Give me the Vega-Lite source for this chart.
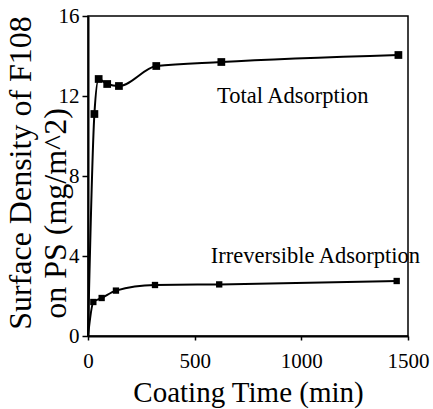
{
  "$schema": "https://vega.github.io/schema/vega-lite/v6.json",
  "autosize": "none",
  "width": 320,
  "height": 320,
  "padding": {"left": 88, "top": 16, "right": 25, "bottom": 73},
  "background": "white",
  "config": {
    "view": {"stroke": "black", "strokeWidth": 1.5},
    "font": "Liberation Serif"
  },
  "title": {
    "text": "Surface Density of F108",
    "orient": "left",
    "anchor": "middle",
    "font": "Liberation Serif",
    "fontSize": 32,
    "fontWeight": "normal",
    "color": "black",
    "offset": 1,
    "dx": 3
  },
  "datasets": {
    "pts": [
      {"series": "Total", "t": 0, "v": 0},
      {"series": "Total", "t": 30, "v": 11.1},
      {"series": "Total", "t": 50, "v": 12.85},
      {"series": "Total", "t": 90, "v": 12.6},
      {"series": "Total", "t": 145, "v": 12.5},
      {"series": "Total", "t": 320, "v": 13.5},
      {"series": "Total", "t": 625, "v": 13.7},
      {"series": "Total", "t": 1455, "v": 14.05},
      {"series": "Irreversible", "t": 0, "v": 0},
      {"series": "Irreversible", "t": 25, "v": 1.7},
      {"series": "Irreversible", "t": 64, "v": 1.9},
      {"series": "Irreversible", "t": 131, "v": 2.27},
      {"series": "Irreversible", "t": 314, "v": 2.55},
      {"series": "Irreversible", "t": 615, "v": 2.58},
      {"series": "Irreversible", "t": 1447, "v": 2.75}
    ],
    "labels": [
      {"t": 960, "v": 12.0, "label": "Total Adsorption"},
      {"t": 1066, "v": 4.0, "label": "Irreversible Adsorption"}
    ]
  },
  "encoding": {
    "x": {
      "field": "t", "type": "quantitative",
      "scale": {"domain": [0, 1500], "nice": false},
      "axis": {
        "title": "Coating Time (min)",
        "values": [0, 500, 1000, 1500],
        "format": "d",
        "grid": false,
        "domainColor": "black", "domainWidth": 2,
        "tickColor": "black", "tickSize": 4, "tickWidth": 1.5,
        "labelColor": "black", "labelFont": "Liberation Serif", "labelFontSize": 21,
        "labelPadding": 10, "labelFlush": false,
        "titleColor": "black", "titleFont": "Liberation Serif", "titleFontSize": 29,
        "titleFontWeight": "normal", "titlePadding": 7
      }
    },
    "y": {
      "field": "v", "type": "quantitative",
      "scale": {"domain": [0, 16], "nice": false},
      "axis": {
        "title": "on PS (mg/m^2)",
        "values": [0, 4, 8, 12, 16],
        "grid": false,
        "domainColor": "black", "domainWidth": 2,
        "tickColor": "black", "tickSize": 6, "tickWidth": 1.5,
        "labelColor": "black", "labelFont": "Liberation Serif", "labelFontSize": 21,
        "labelPadding": 3,
        "titleColor": "black", "titleFont": "Liberation Serif", "titleFontSize": 32,
        "titleFontWeight": "normal",
        "titleX": -33, "titleY": 197, "titleAlign": "center", "titleBaseline": "middle", "titleAngle": -90
      }
    }
  },
  "layer": [
    {
      "data": {"name": "pts"},
      "mark": {"type": "line", "interpolate": "monotone", "color": "black", "strokeWidth": 2},
      "encoding": {"detail": {"field": "series"}}
    },
    {
      "data": {"name": "pts"},
      "transform": [{"filter": "datum.t > 0"}],
      "mark": {"type": "point", "shape": "square", "filled": true, "color": "black", "opacity": 1},
      "encoding": {
        "size": {"field": "series", "type": "nominal", "scale": {"domain": ["Total", "Irreversible"], "range": [60, 40]}, "legend": null}
      }
    },
    {
      "data": {"name": "labels"},
      "mark": {"type": "text", "font": "Liberation Serif", "fontSize": 22.5, "color": "black", "align": "center", "baseline": "middle"},
      "encoding": {"text": {"field": "label"}}
    }
  ]
}
